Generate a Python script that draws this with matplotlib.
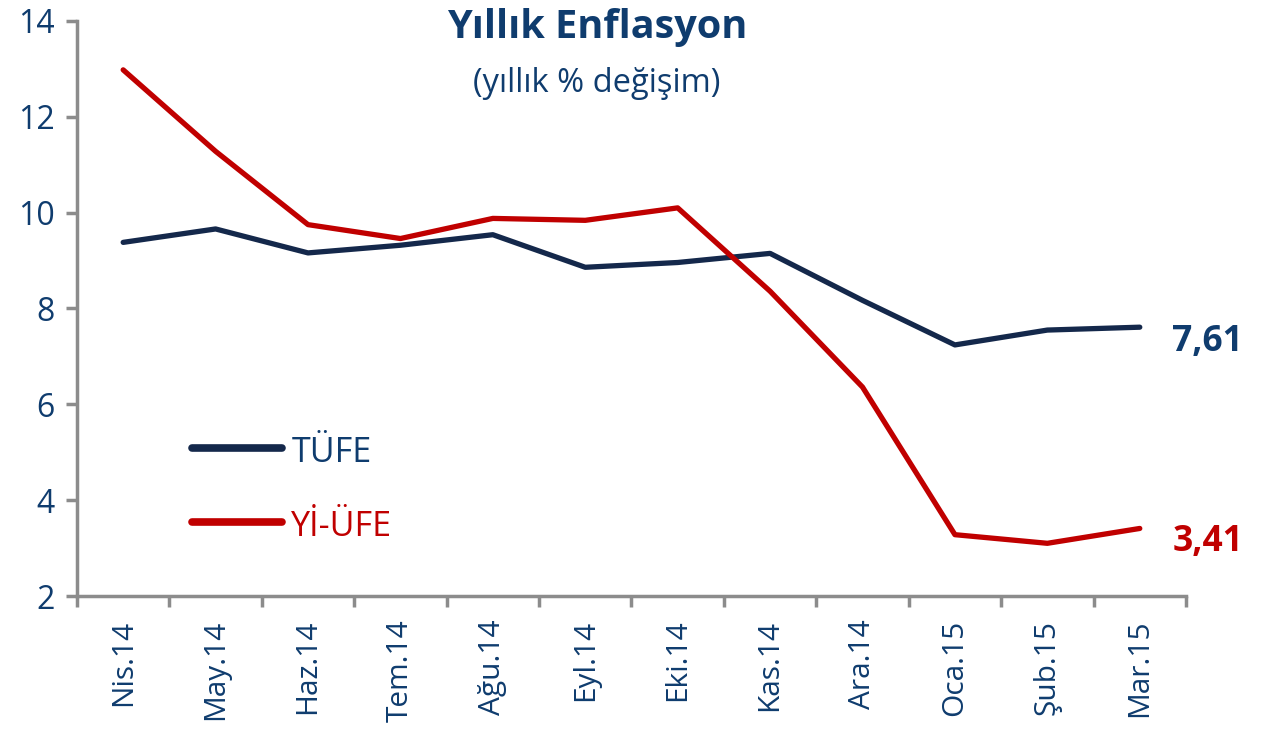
import matplotlib
matplotlib.use("Agg")
import matplotlib.pyplot as plt
import numpy as np

plt.rcParams['font.family'] = ['Open Sans', 'DejaVu Sans']

months = ['Nis.14', 'May.14', 'Haz.14', 'Tem.14', 'Ağu.14', 'Eyl.14',
          'Eki.14', 'Kas.14', 'Ara.14', 'Oca.15', 'Şub.15', 'Mar.15']
tufe = [9.38, 9.66, 9.16, 9.32, 9.54, 8.86, 8.96, 9.15, 8.17, 7.24, 7.55, 7.61]
yiufe = [12.98, 11.28, 9.75, 9.46, 9.88, 9.84, 10.10, 8.36, 6.36, 3.28, 3.10, 3.41]

navy = '#14284b'
text_blue = '#0f3c6e'
red = '#c00000'
grey = '#8c8c8c'

fig = plt.figure(figsize=(12.66, 7.44), dpi=100)
ax = fig.add_axes([0.0608, 0.1989, 0.8760, 0.7729])

x = np.arange(len(months))
ax.plot(x, tufe, color=navy, lw=3.8, solid_capstyle='round', solid_joinstyle='round')
ax.plot(x, yiufe, color=red, lw=3.8, solid_capstyle='round', solid_joinstyle='round')

ax.set_xlim(-0.5, len(months) - 0.5)
ax.set_ylim(2, 14)
ax.set_yticks([2, 4, 6, 8, 10, 12, 14])
ax.set_xticks(x)
ax.set_xticklabels(months, rotation=90, fontsize=21.5, color=text_blue)
ax.set_xticks(np.arange(-0.5, len(months)), minor=True)
ax.tick_params(axis='x', which='major', length=0, pad=17)
ax.tick_params(axis='x', which='minor', length=8, width=2.5, color=grey, direction='out')
ax.tick_params(axis='y', length=8, width=2.5, color=grey, labelsize=23,
               labelcolor=text_blue, pad=8)

for s in ['top', 'right']:
    ax.spines[s].set_visible(False)
for s in ['left', 'bottom']:
    ax.spines[s].set_color(grey)
    ax.spines[s].set_linewidth(2.5)

# title and subtitle
fig.text(0.4716, 0.963, 'Yıllık Enflasyon', ha='center', va='center',
         fontsize=28.5, fontweight='bold', color=text_blue)
fig.text(0.4716, 0.888, '(yıllık % değişim)', ha='center', va='center',
         fontsize=23.5, color=text_blue)

# legend drawn by hand
ax.plot([0.75, 1.72], [5.08, 5.08], color=navy, lw=5.5, solid_capstyle='round', clip_on=False)
ax.plot([0.75, 1.72], [3.55, 3.55], color=red, lw=5.5, solid_capstyle='round', clip_on=False)
ax.text(1.82, 4.98, 'TÜFE', va='center', fontsize=24.5, color=text_blue)
ax.text(1.82, 3.45, 'Yİ-ÜFE', va='center', fontsize=24.5, color=red)

# end labels
ax.text(11.35, 7.3, '7,61', va='center', fontsize=25.5, fontweight='bold',
        color=text_blue, clip_on=False)
ax.text(11.35, 3.12, '3,41', va='center', fontsize=25.5, fontweight='bold',
        color=red, clip_on=False)

fig.savefig('out.png', dpi=100)
